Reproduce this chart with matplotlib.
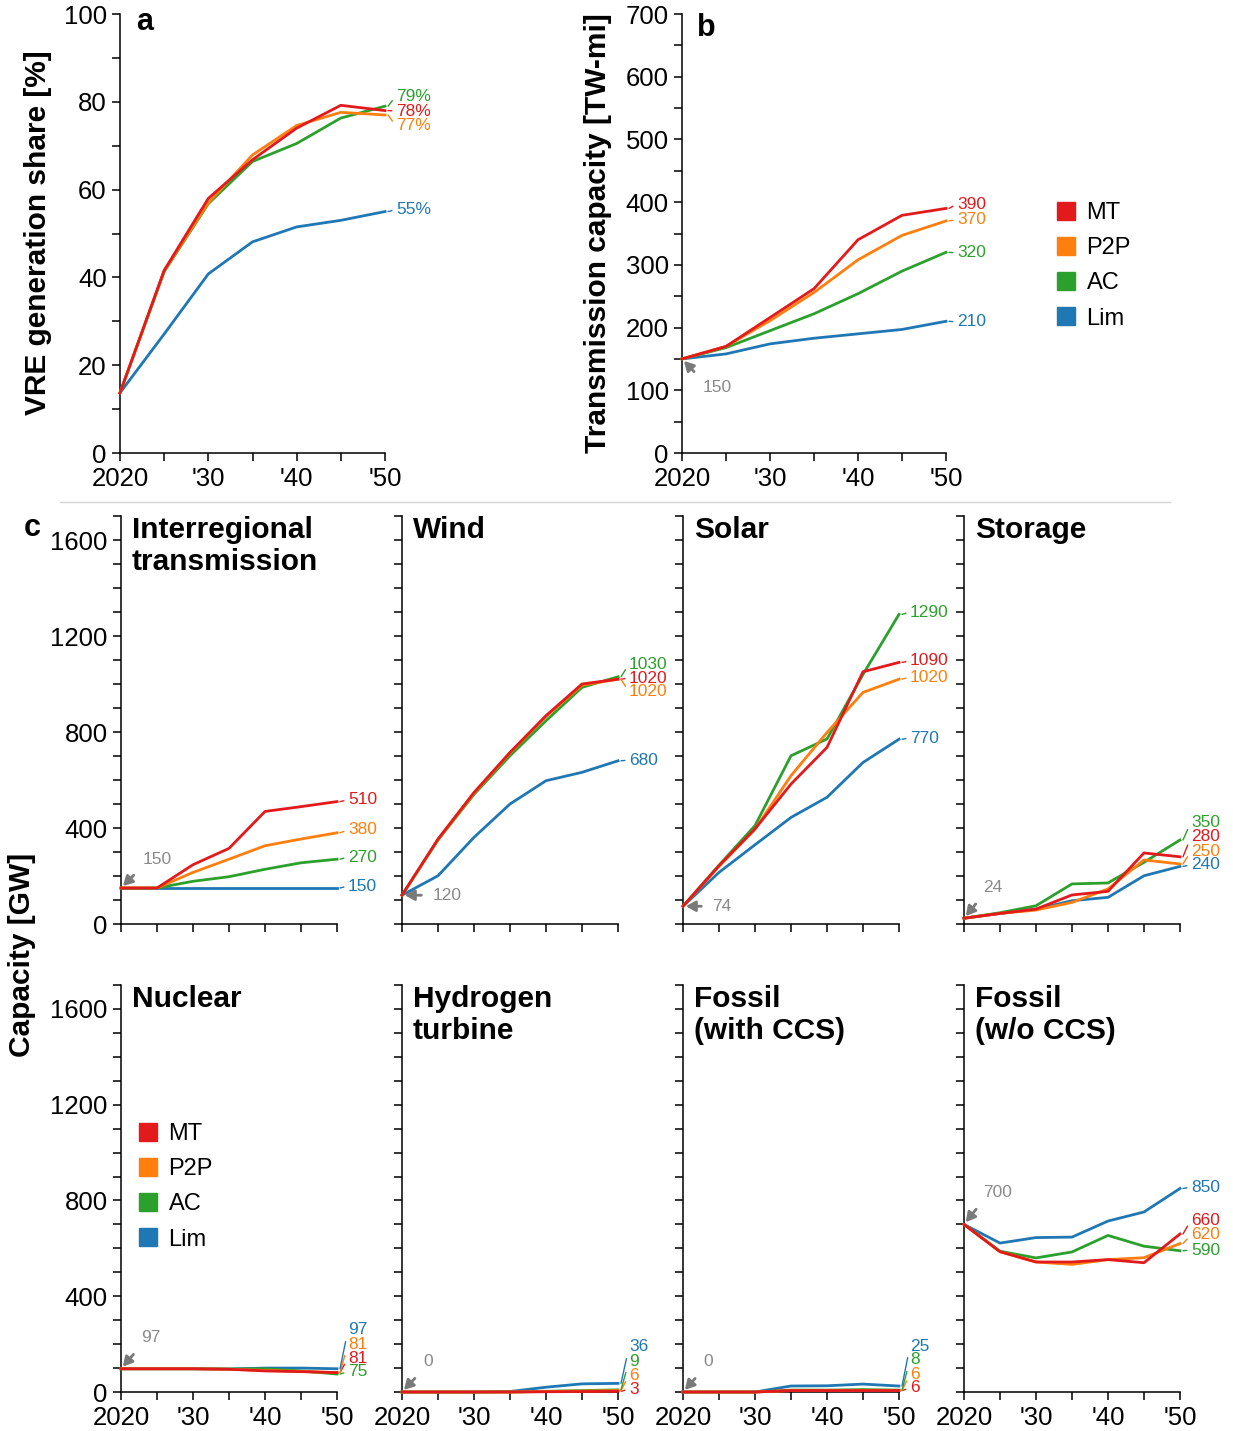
import matplotlib
matplotlib.use("Agg")
import matplotlib.pyplot as plt
from matplotlib.lines import Line2D
from matplotlib.ticker import MultipleLocator, FixedLocator

plt.rcParams["font.family"] = ["Liberation Sans", "DejaVu Sans"]

# ---- data -------------------------------------------------------------
years = [2020, 2025, 2030, 2035, 2040, 2045, 2050]
scenarios = ["MT", "P2P", "AC", "Lim"]
year_ticks = [2020, 2030, 2040, 2050]
year_labels = ["2020", "'30", "'40", "'50"]

# a: VRE generation share [%]
vre_mt = [13.7, 41.6, 58.0, 66.8, 74.0, 79.2, 78]
vre_p2p = [13.7, 41.5, 57.0, 67.9, 74.6, 77.6, 77]
vre_ac = [13.7, 41.3, 56.8, 66.4, 70.5, 76.3, 79]
vre_lim = [13.7, 27.1, 40.8, 48.1, 51.5, 53.0, 55]

# b: transmission capacity [TW-mi]
tx_mt = [150, 170, 216, 262, 340, 379, 390]
tx_p2p = [150, 170, 211, 256, 308, 347, 370]
tx_ac = [150, 168, 195, 222, 254, 290, 320]
tx_lim = [150, 158, 174, 183, 190, 197, 210]

# c: capacity [GW]
ir_mt = [150, 150, 247, 315, 469, 489, 510]
ir_p2p = [150, 150, 215, 270, 326, 354, 380]
ir_ac = [150, 150, 178, 197, 228, 255, 270]
ir_lim = [150, 150, 150, 150, 150, 150, 150]

wind_mt = [120, 354, 548, 715, 868, 1000, 1020]
wind_p2p = [120, 352, 545, 712, 865, 995, 1020]
wind_ac = [120, 350, 540, 701, 847, 986, 1030]
wind_lim = [120, 201, 361, 500, 597, 632, 680]

solar_mt = [74, 243, 396, 583, 736, 1051, 1090]
solar_p2p = [74, 240, 395, 618, 798, 965, 1020]
solar_ac = [74, 245, 410, 701, 771, 1040, 1290]
solar_lim = [74, 215, 330, 444, 528, 673, 770]

stor_mt = [24, 44, 62, 121, 136, 296, 280]
stor_p2p = [24, 44, 58, 90, 146, 267, 250]
stor_ac = [24, 47, 76, 167, 171, 257, 350]
stor_lim = [24, 44, 62, 97, 111, 201, 240]

nuc_mt = [97, 97, 97, 95, 88, 85, 81]
nuc_p2p = [97, 97, 97, 95, 90, 86, 81]
nuc_ac = [97, 97, 97, 96, 97, 88, 75]
nuc_lim = [97, 97, 97, 96, 100, 100, 97]

h2_mt = [0, 0, 0, 0, 1, 2, 3]
h2_p2p = [0, 0, 0, 0, 2, 4, 6]
h2_ac = [0, 0, 0, 0, 3, 6, 9]
h2_lim = [0, 0, 0, 2, 20, 34, 36]

ccs_mt = [0, 0, 0, 6, 6, 6, 6]
ccs_p2p = [0, 0, 0, 6, 6, 6, 6]
ccs_ac = [0, 0, 0, 8, 8, 10, 8]
ccs_lim = [0, 0, 0, 25, 26, 33, 25]

fos_mt = [700, 586, 543, 543, 553, 540, 660]
fos_p2p = [700, 586, 543, 533, 553, 561, 620]
fos_ac = [700, 588, 560, 585, 654, 609, 590]
fos_lim = [700, 622, 645, 647, 714, 752, 850]

COLORS = {"MT": "#e31a1c", "P2P": "#ff7f0e", "AC": "#2ca02c", "Lim": "#1f77b4"}
GRAY_TXT = "#8a8a8a"
GRAY_ARROW = "#7a7a7a"
TICK_FS = 18.5
YLABEL_FS = 21.5
TITLE_FS = 21.5

W, H = 1233, 1431
fig = plt.figure(figsize=(W / 100, H / 100), dpi=100)


def add_ax(left, top, right, bottom):
    return fig.add_axes([left / W, 1 - bottom / H, (right - left) / W, (bottom - top) / H])


def style(ax, ymax, ymajor, yminor, xlabels=True, ylabels=True):
    ax.set_xlim(2020, 2050)
    ax.set_ylim(0, ymax)
    ax.patch.set_alpha(0)
    for s in ["top", "right"]:
        ax.spines[s].set_visible(False)
    for s in ["left", "bottom"]:
        ax.spines[s].set_linewidth(1.1)
    ax.xaxis.set_major_locator(FixedLocator(year_ticks))
    ax.xaxis.set_minor_locator(FixedLocator([2025, 2035, 2045]))
    ax.set_xticklabels(year_labels if xlabels else [])
    ax.yaxis.set_major_locator(MultipleLocator(ymajor))
    ax.yaxis.set_minor_locator(MultipleLocator(yminor))
    if not ylabels:
        ax.set_yticklabels([])
    ax.tick_params(which="both", direction="out", length=6, width=1.1, labelsize=TICK_FS)
    ax.tick_params(axis="x", pad=4)
    ax.tick_params(axis="y", pad=3.5)


def draw(ax, series):
    for name in ["Lim", "AC", "P2P", "MT"]:
        ax.plot(years, series[name], color=COLORS[name], lw=2.0, clip_on=False,
                solid_joinstyle="round", zorder=3)


def end_labels(ax, series, label_ys, width_px, suffix="", fs=12.5):
    dx = 30 / width_px
    for name in scenarios:
        ax.annotate(f"{series[name][-1]:g}{suffix}", xy=(2050 + 3 * dx, series[name][-1]),
                    xytext=(2050 + 11 * dx, label_ys[name]), color=COLORS[name],
                    fontsize=fs, ha="left", va="center", annotation_clip=False,
                    arrowprops=dict(arrowstyle="-", color=COLORS[name], lw=1.0,
                                    shrinkA=1, shrinkB=0, relpos=(0, 0.5)))


def start_note(ax, value, text, dx, dy, relpos):
    ax.annotate(text, xy=(2020, value), xytext=(dx, dy), textcoords="offset pixels",
                ha="center", va="center", color=GRAY_TXT, fontsize=12.5, annotation_clip=False,
                arrowprops=dict(arrowstyle="-|>,head_length=0.45,head_width=0.25",
                                color=GRAY_ARROW, lw=2, shrinkA=6, shrinkB=2, relpos=relpos))


def legend_at(x_px, y_px):
    handles = [Line2D([], [], marker="s", linestyle="none", markersize=13,
                      markerfacecolor=COLORS[n], markeredgecolor=COLORS[n]) for n in scenarios]
    fig.legend(handles, scenarios, loc="upper left", bbox_to_anchor=(x_px / W, 1 - y_px / H),
               frameon=False, fontsize=17, handlelength=0.8, handletextpad=0.45,
               labelspacing=0.56, borderpad=0, borderaxespad=0)


# ---- panel a ----------------------------------------------------------
ax_a = add_ax(120, 14, 385, 453)
style(ax_a, 100, 20, 10)
vre = {"MT": vre_mt, "P2P": vre_p2p, "AC": vre_ac, "Lim": vre_lim}
draw(ax_a, vre)
end_labels(ax_a, vre, {"MT": 77.9, "P2P": 74.5, "AC": 81.3, "Lim": 55.4}, 265, suffix="%")
fig.text(145 / W, 1 - 22 / H, "a", fontsize=22, fontweight="bold", ha="center", va="center")
fig.text(38 / W, 1 - 233 / H, "VRE generation share [%]", rotation=90, fontsize=YLABEL_FS,
         fontweight="bold", ha="center", va="center")

# ---- panel b ----------------------------------------------------------
ax_b = add_ax(682, 14, 946, 453)
style(ax_b, 700, 100, 50)
tx = {"MT": tx_mt, "P2P": tx_p2p, "AC": tx_ac, "Lim": tx_lim}
draw(ax_b, tx)
end_labels(ax_b, tx, {"MT": 397, "P2P": 372, "AC": 319, "Lim": 209}, 264)
start_note(ax_b, 150, "150", 35, -29, (0, 1))
fig.text(706 / W, 1 - 28 / H, "b", fontsize=22, fontweight="bold", ha="center", va="center")
fig.text(598 / W, 1 - 233 / H, "Transmission capacity [TW-mi]", rotation=90, fontsize=YLABEL_FS,
         fontweight="bold", ha="center", va="center")
legend_at(1057, 202)

# separator
fig.add_artist(Line2D([60 / W, 1170 / W], [1 - 502 / H, 1 - 502 / H], color="#d4d4d4", lw=1))

# ---- panel c ----------------------------------------------------------
panels = [
    ("Interregional\ntransmission", {"MT": ir_mt, "P2P": ir_p2p, "AC": ir_ac, "Lim": ir_lim},
     {"MT": 517, "P2P": 392, "AC": 279, "Lim": 158}, ("150", 36, 29, (0, 0))),
    ("Wind", {"MT": wind_mt, "P2P": wind_p2p, "AC": wind_ac, "Lim": wind_lim},
     {"MT": 1025, "P2P": 967, "AC": 1083, "Lim": 683}, ("120", 45, 0, (0, 0.5))),
    ("Solar", {"MT": solar_mt, "P2P": solar_p2p, "AC": solar_ac, "Lim": solar_lim},
     {"MT": 1096, "P2P": 1029, "AC": 1300, "Lim": 775}, ("74", 39, 0, (0, 0.5))),
    ("Storage", {"MT": stor_mt, "P2P": stor_p2p, "AC": stor_ac, "Lim": stor_lim},
     {"MT": 363, "P2P": 304, "AC": 425, "Lim": 246}, ("24", 29, 31, (0, 0))),
    ("Nuclear", {"MT": nuc_mt, "P2P": nuc_p2p, "AC": nuc_ac, "Lim": nuc_lim},
     {"MT": 142, "P2P": 200, "AC": 84, "Lim": 259}, ("97", 30, 31, (0, 0))),
    ("Hydrogen\nturbine", {"MT": h2_mt, "P2P": h2_p2p, "AC": h2_ac, "Lim": h2_lim},
     {"MT": 12, "P2P": 71, "AC": 129, "Lim": 188}, ("0", 26, 30, (0, 0))),
    ("Fossil\n(with CCS)", {"MT": ccs_mt, "P2P": ccs_p2p, "AC": ccs_ac, "Lim": ccs_lim},
     {"MT": 17, "P2P": 75, "AC": 134, "Lim": 192}, ("0", 25, 30, (0, 0))),
    ("Fossil\n(w/o CCS)", {"MT": fos_mt, "P2P": fos_p2p, "AC": fos_ac, "Lim": fos_lim},
     {"MT": 718, "P2P": 656, "AC": 593, "Lim": 856}, ("700", 34, 32, (0, 0))),
]

lefts = [121, 402, 683, 964]
rows = [(516, 924), (985, 1392)]
for i, (title, series, label_ys, note) in enumerate(panels):
    r, c = divmod(i, 4)
    top, bottom = rows[r]
    ax = add_ax(lefts[c], top, lefts[c] + 216, bottom)
    style(ax, 1700, 400, 100, xlabels=(r == 1), ylabels=(c == 0))
    draw(ax, series)
    end_labels(ax, series, label_ys, 216)
    txt, dx, dy, rp = note
    start_note(ax, series["MT"][0], txt, dx, dy, rp)
    ax.text(11 / 216, 1.0, title, transform=ax.transAxes, ha="left", va="top",
            fontsize=TITLE_FS, fontweight="bold", linespacing=1.2)

fig.text(32 / W, 1 - 528 / H, "c", fontsize=22, fontweight="bold", ha="center", va="center")
fig.text(22 / W, 1 - 955 / H, "Capacity [GW]", rotation=90, fontsize=YLABEL_FS,
         fontweight="bold", ha="center", va="center")
legend_at(139, 1123)

fig.savefig("out.png", dpi=100, facecolor="white")
